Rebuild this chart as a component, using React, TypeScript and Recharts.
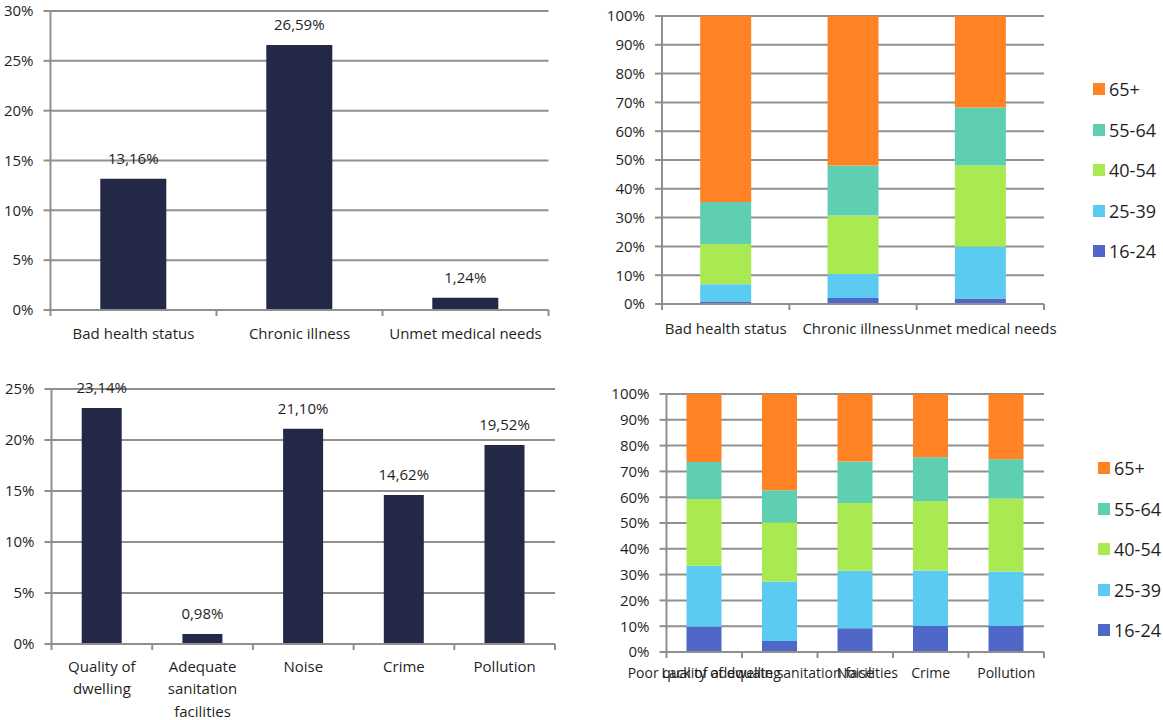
import { BarChart, Bar, XAxis, YAxis, CartesianGrid, LabelList, Text } from 'recharts';

const FONT = "'Open Sans', 'DejaVu Sans', sans-serif";
const TEXT = '#1f1f1f';
const GRID = '#8f8f8f';
const NAVY = '#242847';

// share of people reporting each health problem (%)
const healthCategories = ['Bad health status', 'Chronic illness', 'Unmet medical needs'];
const healthShares = [13.16, 26.59, 1.24];
const healthTicks = [0, 5, 10, 15, 20, 25, 30];

// share of people reporting each housing problem (%)
const housingCategories = ['Quality of dwelling', 'Adequate sanitation facilities', 'Noise', 'Crime', 'Pollution'];
const housingShares = [23.14, 0.98, 21.1, 14.62, 19.52];
const housingTicks = [0, 5, 10, 15, 20, 25];

// age structure of those reporting the problem (%)
const ageGroups = ['16-24', '25-39', '40-54', '55-64', '65+'];
const percentTicks = [0, 10, 20, 30, 40, 50, 60, 70, 80, 90, 100];

const healthAgeCategories = ['Bad health status', 'Chronic illness', 'Unmet medical needs'];
const healthAge1624 = [0.7, 2.1, 1.9];
const healthAge2539 = [6.2, 8.3, 18.0];
const healthAge4054 = [13.9, 20.3, 28.2];
const healthAge5564 = [14.6, 17.4, 20.1];
const healthAge65 = [64.6, 51.9, 31.8];

const housingAgeCategories = [
  'Poor quality of dwelling',
  'Lack of adequate sanitation facilities',
  'Noise',
  'Crime',
  'Pollution',
];
const housingAge1624 = [9.8, 4.3, 9.2, 10.1, 10.1];
const housingAge2539 = [23.6, 23.0, 22.3, 21.5, 21.1];
const housingAge4054 = [25.9, 23.0, 26.3, 26.9, 28.3];
const housingAge5564 = [14.3, 12.4, 16.0, 17.0, 15.2];
const housingAge65 = [26.4, 37.3, 26.2, 24.5, 25.3];

const AGE_COLORS = ['#4f67c6', '#5ccbf2', '#a9e952', '#5ecfb1', '#ff8224'];

const shareRows = (cats: string[], vals: number[]) => cats.map((name, i) => ({ name, value: vals[i] }));

const ageRows = (cats: string[], cols: number[][]) =>
  cats.map((name, i) => {
    const row: Record<string, string | number> = { name };
    ageGroups.forEach((g, k) => (row[g] = cols[k][i]));
    return row;
  });

const pct = (v: number) => `${v}%`;
const pctComma = (v: any) => `${Number(v).toFixed(2).replace('.', ',')}%`;

// category ticks sit on the band edges, label below the band centre
const edgeTick = (band: number, drop: number, fontSize: number, wrap?: number) => (props: any) => {
  const { x, y, payload, index, visibleTicksCount } = props;
  const left = x - band / 2;
  const right = x + band / 2;
  return (
    <g>
      <line x1={left} y1={y} x2={left} y2={y + 6} stroke={GRID} strokeWidth={2} />
      {index === visibleTicksCount - 1 && (
        <line x1={right} y1={y} x2={right} y2={y + 6} stroke={GRID} strokeWidth={2} />
      )}
      <Text
        x={x}
        y={y + drop}
        width={wrap}
        textAnchor="middle"
        verticalAnchor="start"
        lineHeight={22.5}
        fill={TEXT}
        fontSize={fontSize}
        style={{ fontFamily: FONT, fontSize }}
      >
        {payload.value}
      </Text>
    </g>
  );
};

interface Frame {
  left: number;
  top: number;
  width: number;
  height: number;
  plotTop: number;
  plotRight: number;
  yWidth: number;
  xHeight: number;
}

const ShareChart = ({ frame, data, ticks, drop, wrap }: { frame: Frame; data: any[]; ticks: number[]; drop: number; wrap?: number }) => {
  const band = (frame.width - frame.plotRight - frame.yWidth) / data.length;
  return (
    <div style={{ position: 'absolute', left: frame.left, top: frame.top }}>
      <BarChart
        width={frame.width}
        height={frame.height}
        data={data}
        margin={{ top: frame.plotTop, right: frame.plotRight, left: 0, bottom: 0 }}
        barCategoryGap="30%"
      >
        <CartesianGrid vertical={false} stroke={GRID} strokeWidth={2} />
        <XAxis
          dataKey="name"
          height={frame.xHeight}
          interval={0}
          tickSize={0}
          tickMargin={0}
          tickLine={false}
          axisLine={{ stroke: GRID, strokeWidth: 2 }}
          tick={edgeTick(band, drop, 15, wrap)}
        />
        <YAxis
          width={frame.yWidth}
          domain={[0, ticks[ticks.length - 1]]}
          ticks={ticks}
          interval={0}
          tickFormatter={pct}
          tickSize={7}
          tickMargin={10}
          axisLine={{ stroke: GRID, strokeWidth: 2 }}
          tickLine={{ stroke: GRID, strokeWidth: 2 }}
          tick={{ fill: TEXT, fontSize: 15 }}
        />
        <Bar dataKey="value" fill={NAVY} isAnimationActive={false}>
          <LabelList dataKey="value" position="top" offset={15} formatter={pctComma} fill={TEXT} fontSize={15} />
        </Bar>
      </BarChart>
    </div>
  );
};

const AgeChart = ({ frame, data, drop, labelSize, gap }: { frame: Frame; data: any[]; drop: number; labelSize: number; gap: string }) => {
  const band = (frame.width - frame.plotRight - frame.yWidth) / data.length;
  return (
    <div style={{ position: 'absolute', left: frame.left, top: frame.top }}>
      <BarChart
        width={frame.width}
        height={frame.height}
        data={data}
        margin={{ top: frame.plotTop, right: frame.plotRight, left: 0, bottom: 0 }}
        barCategoryGap={gap}
      >
        <CartesianGrid vertical={false} stroke={GRID} strokeWidth={2} />
        <XAxis
          dataKey="name"
          height={frame.xHeight}
          interval={0}
          tickSize={0}
          tickMargin={0}
          tickLine={false}
          axisLine={{ stroke: GRID, strokeWidth: 2 }}
          tick={edgeTick(band, drop, labelSize)}
        />
        <YAxis
          width={frame.yWidth}
          domain={[0, 100]}
          allowDataOverflow
          ticks={percentTicks}
          interval={0}
          tickFormatter={pct}
          tickSize={7}
          tickMargin={10}
          axisLine={{ stroke: GRID, strokeWidth: 2 }}
          tickLine={{ stroke: GRID, strokeWidth: 2 }}
          tick={{ fill: TEXT, fontSize: 15 }}
        />
        {ageGroups.map((g, k) => (
          <Bar key={g} dataKey={g} stackId="age" fill={AGE_COLORS[k]} isAnimationActive={false} />
        ))}
      </BarChart>
    </div>
  );
};

const AgeLegend = ({ left, top }: { left: number; top: number }) => (
  <div style={{ position: 'absolute', left, top }}>
    {ageGroups
      .map((g, k) => ({ g, color: AGE_COLORS[k] }))
      .reverse()
      .map((item, i) => (
        <div
          key={item.g}
          style={{ position: 'absolute', left: 0, top: i * 40.5 - 12, display: 'flex', alignItems: 'center', height: 24 }}
        >
          <span style={{ width: 12, height: 12, background: item.color, marginRight: 4, display: 'inline-block' }} />
          <span style={{ fontSize: 18, lineHeight: '24px', color: TEXT, whiteSpace: 'nowrap' }}>{item.g}</span>
        </div>
      ))}
  </div>
);

const healthFrame: Frame = { left: 0, top: 0, width: 560, height: 360, plotTop: 11, plotRight: 11.5, yWidth: 50.5, xHeight: 50 };
const healthAgeFrame: Frame = { left: 580, top: 0, width: 583, height: 360, plotTop: 16, plotRight: 119, yWidth: 82, xHeight: 56 };
const housingFrame: Frame = { left: 0, top: 360, width: 560, height: 360, plotTop: 29, plotRight: 5, yWidth: 51.5, xHeight: 76 };
const housingAgeFrame: Frame = { left: 580, top: 360, width: 583, height: 360, plotTop: 34, plotRight: 119, yWidth: 86.5, xHeight: 68 };

export default function App() {
  return (
    <div
      style={{
        position: 'absolute',
        left: 0,
        top: 0,
        width: 1163,
        height: 720,
        background: '#fff',
        fontFamily: FONT,
        overflow: 'hidden',
      }}
    >
      <ShareChart frame={healthFrame} data={shareRows(healthCategories, healthShares)} ticks={healthTicks} drop={18} />
      <AgeChart
        frame={healthAgeFrame}
        data={ageRows(healthAgeCategories, [healthAge1624, healthAge2539, healthAge4054, healthAge5564, healthAge65])}
        drop={19}
        labelSize={15}
        gap="30%"
      />
      <AgeLegend left={1093} top={89} />
      <ShareChart frame={housingFrame} data={shareRows(housingCategories, housingShares)} ticks={housingTicks} drop={17} wrap={90} />
      <AgeChart
        frame={housingAgeFrame}
        data={ageRows(housingAgeCategories, [housingAge1624, housingAge2539, housingAge4054, housingAge5564, housingAge65])}
        drop={16}
        labelSize={14}
        gap="26.5%"
      />
      <AgeLegend left={1098} top={468} />
    </div>
  );
}
